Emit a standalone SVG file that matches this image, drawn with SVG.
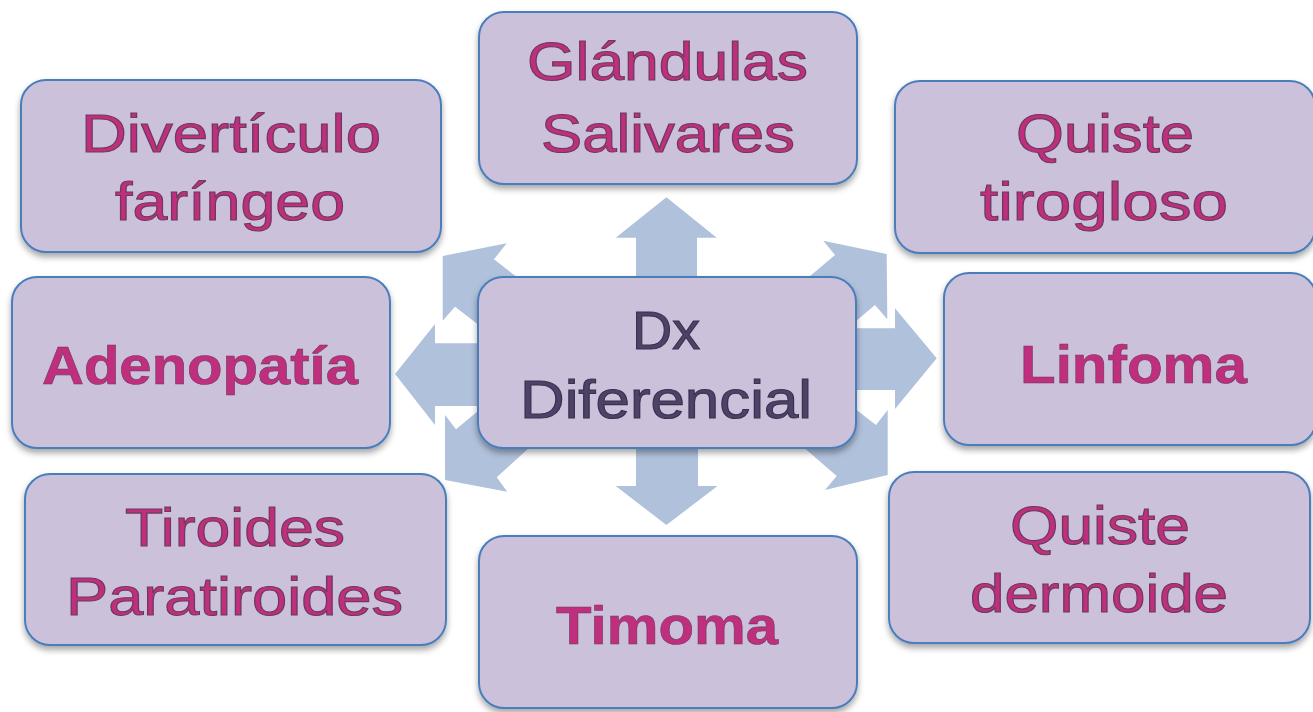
<svg xmlns="http://www.w3.org/2000/svg" width="1313" height="712" viewBox="0 0 1313 712">
<defs>
<filter id="sh" x="-10%" y="-10%" width="120%" height="130%">
<feDropShadow dx="0" dy="4" stdDeviation="3" flood-color="#000" flood-opacity="0.35"/>
</filter>
</defs>
<style>
.box{fill:#CBC1DB;stroke:#4A7EBB;stroke-width:2;filter:url(#sh)}
.arr{fill:#B0C1DC}
.t{font-family:"Liberation Sans",Arial,sans-serif;font-size:54px;fill:#C02E7E;stroke:#6B3A5E;stroke-width:1.1;text-anchor:start}
.b{font-weight:bold;stroke-width:0.6}
.c{fill:#4E4366;stroke:#3A3050}
</style>
<rect width="1313" height="712" fill="#fff"/>
<g id="connectors">
<polygon class="arr" points="666.4,197.3 716.8,237.7 697,237.7 697,300 636,300 636,237.7 615.7,237.7"/>
<polygon class="arr" points="666.4,525 717.5,486 698,486 698,420 636,420 636,486 615.7,486"/>
<polygon class="arr" points="395,374 435,324 435,343.3 540,343.3 540,406 435,406 435,425"/>
<polygon class="arr" points="936.7,358.3 895,308.3 895,328.3 800,328.3 800,390 895,390 895,409"/>
<polygon class="arr" points="442.7,256 506.7,243.3 494,259.3 540,295 540,372 455,306.7 442.7,320.7"/>
<polygon class="arr" points="445,480 445,415 456,429.3 540,359.5 540,438 496.7,477.3 507.3,491.7"/>
<polygon class="arr" points="886.7,254 823.3,240.7 835,255 790,293 790,376.7 875,305 887.3,319.3"/>
<polygon class="arr" points="887.7,475 887.7,410 876,425 790,358.6 790,435.5 836.7,476 825,490"/>
</g>
<g id="n-glandulas">
<rect class="box" x="479" y="12" width="378" height="172" rx="25"/>
<text class="t" x="527" y="80" textLength="281" lengthAdjust="spacingAndGlyphs">Glándulas</text>
<text class="t" x="541" y="152" textLength="254" lengthAdjust="spacingAndGlyphs">Salivares</text>
</g>
<g id="n-diverticulo">
<rect class="box" x="21" y="80" width="420" height="172" rx="25"/>
<text class="t" x="81" y="152" textLength="300" lengthAdjust="spacingAndGlyphs">Divertículo</text>
<text class="t" x="115" y="220" textLength="230" lengthAdjust="spacingAndGlyphs">faríngeo</text>
</g>
<g id="n-tirogloso">
<rect class="box" x="895" y="81" width="420" height="172" rx="25"/>
<text class="t" x="1016" y="152" textLength="178" lengthAdjust="spacingAndGlyphs">Quiste</text>
<text class="t" x="980" y="220" textLength="248" lengthAdjust="spacingAndGlyphs">tirogloso</text>
</g>
<g id="n-adenopatia">
<rect class="box" x="12" y="277" width="378" height="171" rx="25"/>
<text class="t b" x="42" y="384" textLength="316" lengthAdjust="spacingAndGlyphs">Adenopatía</text>
</g>
<g id="n-center">
<rect class="box" x="478" y="277" width="378" height="171" rx="25"/>
<text class="t c" x="632" y="349" textLength="68" lengthAdjust="spacingAndGlyphs">Dx</text>
<text class="t c" x="520" y="418" textLength="292" lengthAdjust="spacingAndGlyphs">Diferencial</text>
</g>
<g id="n-linfoma">
<rect class="box" x="944" y="273" width="372" height="172" rx="25"/>
<text class="t b" x="1020" y="383" textLength="227" lengthAdjust="spacingAndGlyphs">Linfoma</text>
</g>
<g id="n-tiroides">
<rect class="box" x="25" y="474" width="421" height="171" rx="25"/>
<text class="t" x="125" y="546" textLength="220" lengthAdjust="spacingAndGlyphs">Tiroides</text>
<text class="t" x="66" y="615" textLength="337" lengthAdjust="spacingAndGlyphs">Paratiroides</text>
</g>
<g id="n-timoma">
<rect class="box" x="479" y="536" width="378" height="172" rx="25"/>
<text class="t b" x="556" y="644" textLength="222" lengthAdjust="spacingAndGlyphs">Timoma</text>
</g>
<g id="n-dermoide">
<rect class="box" x="889" y="472" width="421" height="171" rx="25"/>
<text class="t" x="1010" y="544" textLength="180" lengthAdjust="spacingAndGlyphs">Quiste</text>
<text class="t" x="970" y="612" textLength="258" lengthAdjust="spacingAndGlyphs">dermoide</text>
</g>
</svg>
